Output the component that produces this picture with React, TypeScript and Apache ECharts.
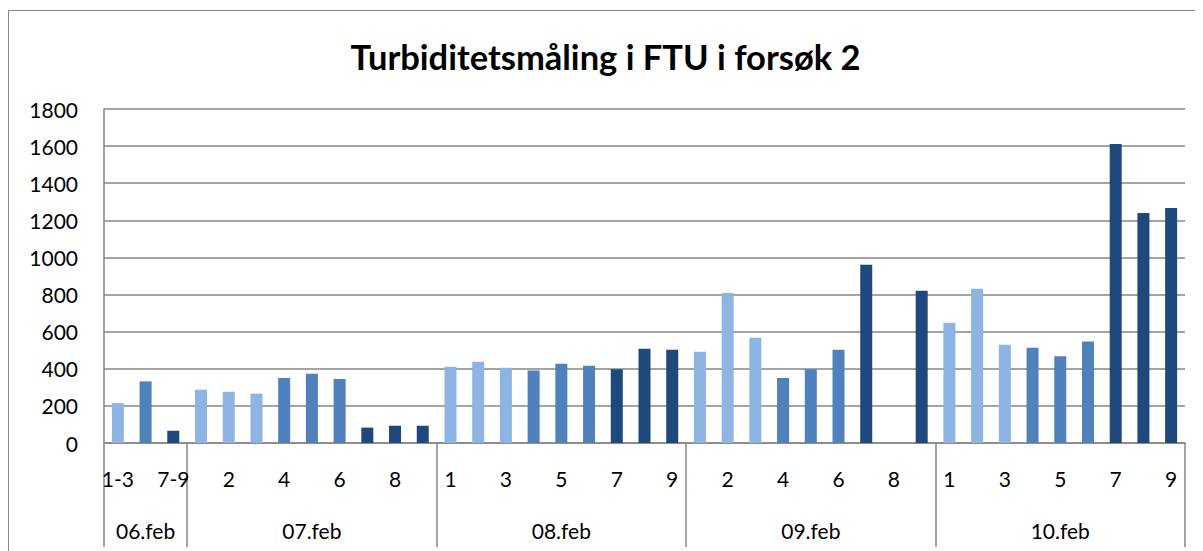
import React, { useEffect, useRef } from "react";
import * as echarts from "echarts";

const days = ["06.feb", "07.feb", "08.feb", "09.feb", "10.feb"];
const samples06 = ["1-3", "4-6", "7-9"];
const samples = ["1", "2", "3", "4", "5", "6", "7", "8", "9"];

const values06 = [215, 332, 66];
const values07 = [287, 276, 266, 350, 373, 345, 83, 93, 93];
const values08 = [411, 438, 406, 391, 427, 416, 397, 508, 503];
const values09 = [492, 809, 567, 350, 398, 503, 960, null, 820];
const values10 = [648, 831, 529, 513, 467, 547, 1612, 1240, 1267];

const yTicks = [0, 200, 400, 600, 800, 1000, 1200, 1400, 1600, 1800];

const shadeColors = ["#8EB4E3", "#4F81BD", "#1F497D"];

export default function App() {
  const ref = useRef<HTMLDivElement>(null);

  useEffect(() => {
    if (!ref.current) return;
    const chart = echarts.init(ref.current, undefined, { renderer: "svg" });

    const groups = [
      { day: days[0], labels: samples06, values: values06 },
      { day: days[1], labels: samples, values: values07 },
      { day: days[2], labels: samples, values: values08 },
      { day: days[3], labels: samples, values: values09 },
      { day: days[4], labels: samples, values: values10 },
    ];

    const categories: string[] = [];
    const data: any[] = [];
    const bounds: number[] = [0];
    const centers: number[] = [];
    const centerNames: Record<string, string> = {};
    groups.forEach((g) => {
      const start = categories.length;
      g.labels.forEach((lab, i) => {
        categories.push(lab);
        const shade = g.labels.length === 3 ? i : Math.floor(i / 3);
        const v = g.values[i];
        data.push(
          v == null
            ? null
            : { value: v, itemStyle: { color: shadeColors[shade] } }
        );
      });
      const end = categories.length;
      bounds.push(end);
      const c = (start + end) / 2;
      centers.push(c);
      centerNames[String(c)] = g.day;
    });

    const font = "Lato, 'Open Sans', sans-serif";
    const gray = "#868686";

    chart.setOption({
      animation: false,
      title: {
        text: "Turbiditetsmåling i FTU i forsøk 2",
        left: "center",
        top: 26,
        textStyle: {
          fontFamily: font,
          fontWeight: "bold",
          fontSize: 34.5,
          color: "#000",
        },
      },
      graphic: [
        {
          type: "rect",
          shape: { x: 0.5, y: 2.5, width: 1400, height: 800 },
          style: { fill: "none", stroke: gray, lineWidth: 1 },
          silent: true,
        },
      ],
      grid: { left: 96, right: 18, top: 101, bottom: 108, containLabel: false },
      xAxis: [
        {
          type: "category",
          data: categories,
          position: "bottom",
          axisLine: { show: true, lineStyle: { color: gray, width: 1.5 } },
          axisTick: { show: false },
          splitLine: { show: false },
          axisLabel: {
            interval: 1,
            margin: 25,
            fontFamily: font,
            fontSize: 21,
            color: "#000",
            hideOverlap: false,
          },
        },
        {
          type: "value",
          min: 0,
          max: categories.length,
          position: "bottom",
          axisLine: { show: false },
          splitLine: { show: false },
          axisTick: {
            show: true,
            customValues: bounds,
            length: 104,
            lineStyle: { color: gray, width: 1.5 },
          },
          axisLabel: {
            customValues: centers,
            margin: 77,
            fontFamily: font,
            fontSize: 21,
            color: "#000",
            formatter: (v: number) => centerNames[String(v)] ?? "",
          },
        },
      ],
      yAxis: {
        type: "value",
        min: yTicks[0],
        max: yTicks[yTicks.length - 1],
        interval: yTicks[1] - yTicks[0],
        axisLine: { show: true, lineStyle: { color: gray, width: 1.5 } },
        axisTick: { show: false },
        splitLine: { show: true, lineStyle: { color: gray, width: 1.5 } },
        axisLabel: {
          margin: 26,
          fontFamily: font,
          fontSize: 21,
          color: "#000",
          formatter: (v: number) => String(v),
        },
      },
      series: [
        {
          type: "bar",
          xAxisIndex: 0,
          yAxisIndex: 0,
          data,
          barWidth: 12,
        },
      ],
    });

    return () => chart.dispose();
  }, []);

  return <div ref={ref} style={{ width: 1195, height: 543 }} />;
}
